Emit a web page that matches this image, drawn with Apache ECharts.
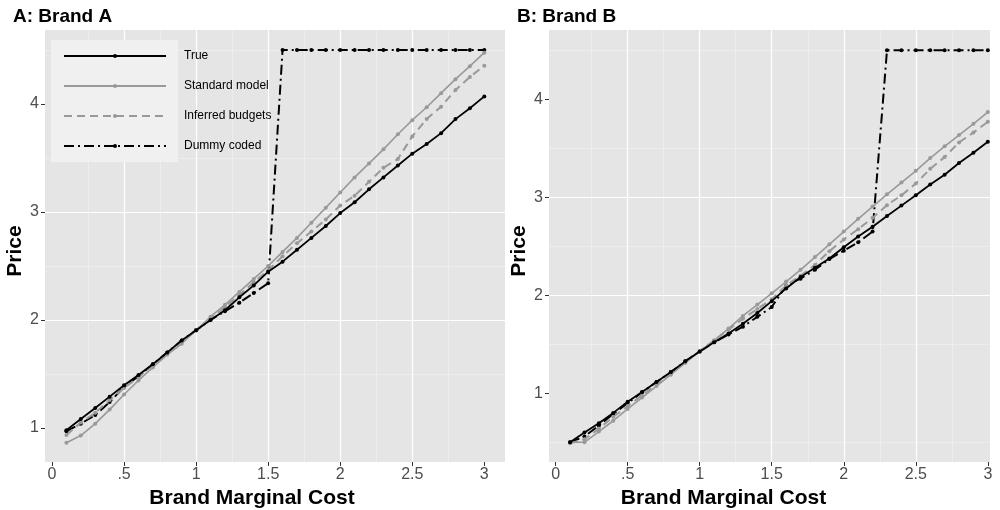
<!DOCTYPE html>
<html>
<head>
<meta charset="utf-8">
<script src="https://cdn.jsdelivr.net/npm/echarts@6/dist/echarts.min.js"></script>
<style>
html,body{margin:0;padding:0;background:#fff;}
#main{width:1000px;height:510px;}
</style>
</head>
<body>
<div id="main"></div>
<script>
// marginal cost grid (x)
var cost = [0.1,0.2,0.3,0.4,0.5,0.6,0.7,0.8,0.9,1.0,
    1.1,1.2,1.3,1.4,1.5,1.6,1.7,1.8,1.9,2.0,
    2.1,2.2,2.3,2.4,2.5,2.6,2.7,2.8,2.9,3.0];
var xTicks = [0,0.5,1,1.5,2,2.5,3];
var yTicks = [1,2,3,4];
var seriesNames = ['True','Standard model','Inferred budgets','Dummy coded'];

// Brand A
var trueA  = [0.98,1.083,1.185,1.29,1.395,1.49,1.59,1.70,1.81,1.905,
    2.0,2.09,2.21,2.32,2.447,2.54,2.65,2.76,2.87,2.99,
    3.09,3.21,3.32,3.43,3.54,3.63,3.73,3.86,3.96,4.07];
var stdA   = [0.864,0.93,1.04,1.17,1.31,1.44,1.56,1.68,1.78,1.905,
    2.03,2.14,2.26,2.38,2.50,2.63,2.76,2.90,3.04,3.18,
    3.32,3.45,3.58,3.72,3.85,3.97,4.10,4.23,4.35,4.475];
var infA   = [0.935,1.05,1.14,1.26,1.37,1.47,1.58,1.69,1.80,1.905,
    2.01,2.12,2.23,2.35,2.46,2.59,2.71,2.82,2.93,3.06,
    3.15,3.28,3.41,3.49,3.70,3.86,3.975,4.13,4.25,4.355];
var dumA   = [0.97,1.04,1.12,1.24,1.38,1.48,1.59,1.70,1.81,1.905,
    2.0,2.08,2.16,2.25,2.34,4.5,4.5,4.5,4.5,4.5,
    4.5,4.5,4.5,4.5,4.5,4.5,4.5,4.5,4.5,4.5];

// Brand B
var trueB  = [0.50,0.60,0.695,0.80,0.915,1.013,1.115,1.217,1.326,1.427,
    1.52,1.61,1.71,1.82,1.94,2.07,2.187,2.28,2.376,2.49,
    2.60,2.70,2.81,2.915,3.02,3.13,3.23,3.35,3.455,3.567];
var stdB   = [0.50,0.50,0.61,0.72,0.84,0.956,1.074,1.19,1.31,1.427,
    1.54,1.66,1.79,1.905,2.02,2.14,2.26,2.39,2.52,2.65,
    2.78,2.905,3.03,3.15,3.27,3.40,3.52,3.635,3.75,3.87];
var infB   = [0.49,0.53,0.64,0.76,0.87,0.98,1.09,1.20,1.32,1.43,
    1.54,1.65,1.76,1.86,1.96,2.10,2.20,2.31,2.45,2.57,
    2.675,2.79,2.92,3.02,3.14,3.29,3.41,3.56,3.66,3.77];
var dumB   = [0.50,0.56,0.67,0.79,0.90,1.01,1.115,1.217,1.326,1.427,
    1.52,1.60,1.68,1.78,1.88,2.10,2.17,2.26,2.37,2.455,
    2.54,2.65,4.5,4.5,4.5,4.5,4.5,4.5,4.5,4.5];

var myChart = echarts.init(document.getElementById('main'), null, {renderer:'canvas'});
var FONT = '"Liberation Sans", Arial, Helvetica, sans-serif';

function pairs(ys){
    var out = [];
    for (var i = 0; i < cost.length; i++) out.push([cost[i], ys[i]]);
    return out;
}
function xLabel(v){
    if (Math.abs(v - 0.5) < 1e-6) return '.5';
    return String(v);
}

// look of each line: color, width, dash
var styles = [
    {color:'#000000', width:1.8, type:'solid'},
    {color:'#999999', width:1.6, type:'solid'},
    {color:'#999999', width:2, type:[8,5]},
    {color:'#000000', width:2, type:[10,4,2,4]}
];

function makeX(idx, min, max, shift){
    return {
        type:'value', gridIndex:idx, min:min, max:max,
        minInterval:0.5, maxInterval:0.5,
        name:'Brand Marginal Cost', nameLocation:'middle', nameGap:24,
        nameTextStyle:{fontFamily:FONT, fontWeight:'bold', fontSize:21, color:'#000', padding:[0, shift*2, 0, 0]},
        axisLine:{show:false, onZero:false},
        axisTick:{show:true, length:4, lineStyle:{color:'#333', width:1}, customValues:xTicks},
        axisLabel:{fontFamily:FONT, fontSize:16, color:'#4d4d4d', margin:5,
            customValues:xTicks, formatter:xLabel},
        splitLine:{show:true, showMinLine:false, showMaxLine:false, lineStyle:{color:'#ffffff', width:1.2}},
        minorTick:{show:false, splitNumber:2},
        minorSplitLine:{show:true, lineStyle:{color:'#f2f2f2', width:0.6}}
    };
}
function makeY(idx, min, max, gap){
    return {
        type:'value', gridIndex:idx, min:min, max:max,
        minInterval:1, maxInterval:1,
        name:'Price', nameLocation:'middle', nameGap:gap, nameRotate:90,
        nameTextStyle:{fontFamily:FONT, fontWeight:'bold', fontSize:21, color:'#000', padding:[0, 10, 0, 0]},
        axisLine:{show:false, onZero:false},
        axisTick:{show:true, length:4, lineStyle:{color:'#333', width:1}, customValues:yTicks},
        axisLabel:{fontFamily:FONT, fontSize:16, color:'#4d4d4d', margin:6, customValues:yTicks},
        splitLine:{show:true, showMinLine:false, showMaxLine:false, lineStyle:{color:'#ffffff', width:1.2}},
        minorTick:{show:false, splitNumber:2},
        minorSplitLine:{show:true, lineStyle:{color:'#f2f2f2', width:0.6}}
    };
}

var panelData = [[trueA, stdA, infA, dumA], [trueB, stdB, infB, dumB]];
var series = [];
for (var p = 0; p < 2; p++) {
    for (var s = 0; s < 4; s++) {
        series.push({
            name: seriesNames[s],
            type:'line',
            xAxisIndex:p, yAxisIndex:p,
            data: pairs(panelData[p][s]),
            symbol:'circle', symbolSize:4, showSymbol:true,
            lineStyle:{color:styles[s].color, width:styles[s].width, type:styles[s].type},
            itemStyle:{color:styles[s].color},
            z: 10 - s,
            emphasis:{disabled:true}
        });
    }
}

option = {
    backgroundColor:'#ffffff',
    animation:false,
    title:[
        {text:'A: Brand A', left:13, top:7, padding:0, textStyle:{fontFamily:FONT, fontWeight:'bold', fontSize:19, color:'#000'}},
        {text:'B: Brand B', left:517, top:7, padding:0, textStyle:{fontFamily:FONT, fontWeight:'bold', fontSize:19, color:'#000'}}
    ],
    grid:[
        {left:45, top:30, width:460, height:432, show:true, backgroundColor:'#e5e5e5', borderWidth:0,
            containLabel:false, outerBoundsMode:'none'},
        {left:549, top:30, width:441, height:432, show:true, backgroundColor:'#e5e5e5', borderWidth:0,
            containLabel:false, outerBoundsMode:'none'}
    ],
    graphic:[
        // light box behind the legend keys
        {type:'rect', left:51, top:40, shape:{width:127, height:122}, style:{fill:'#f0f0f0'}, z:5}
    ],
    legend:{
        data:seriesNames,
        orient:'vertical', left:63, top:49, padding:0,
        itemWidth:102, itemHeight:5, itemGap:16,
        textStyle:{fontFamily:FONT, fontSize:12, color:'#000', lineHeight:14, padding:[0,0,0,13]},
        selectedMode:false, z:20
    },
    xAxis:[makeX(0, -0.0486, 3.1436, 23), makeX(1, -0.046, 3.015, 46)],
    yAxis:[makeY(0, 0.685, 4.685, 12), makeY(1, 0.299, 4.707, 13)],
    series:series
};
myChart.setOption(option);
</script>
</body>
</html>
